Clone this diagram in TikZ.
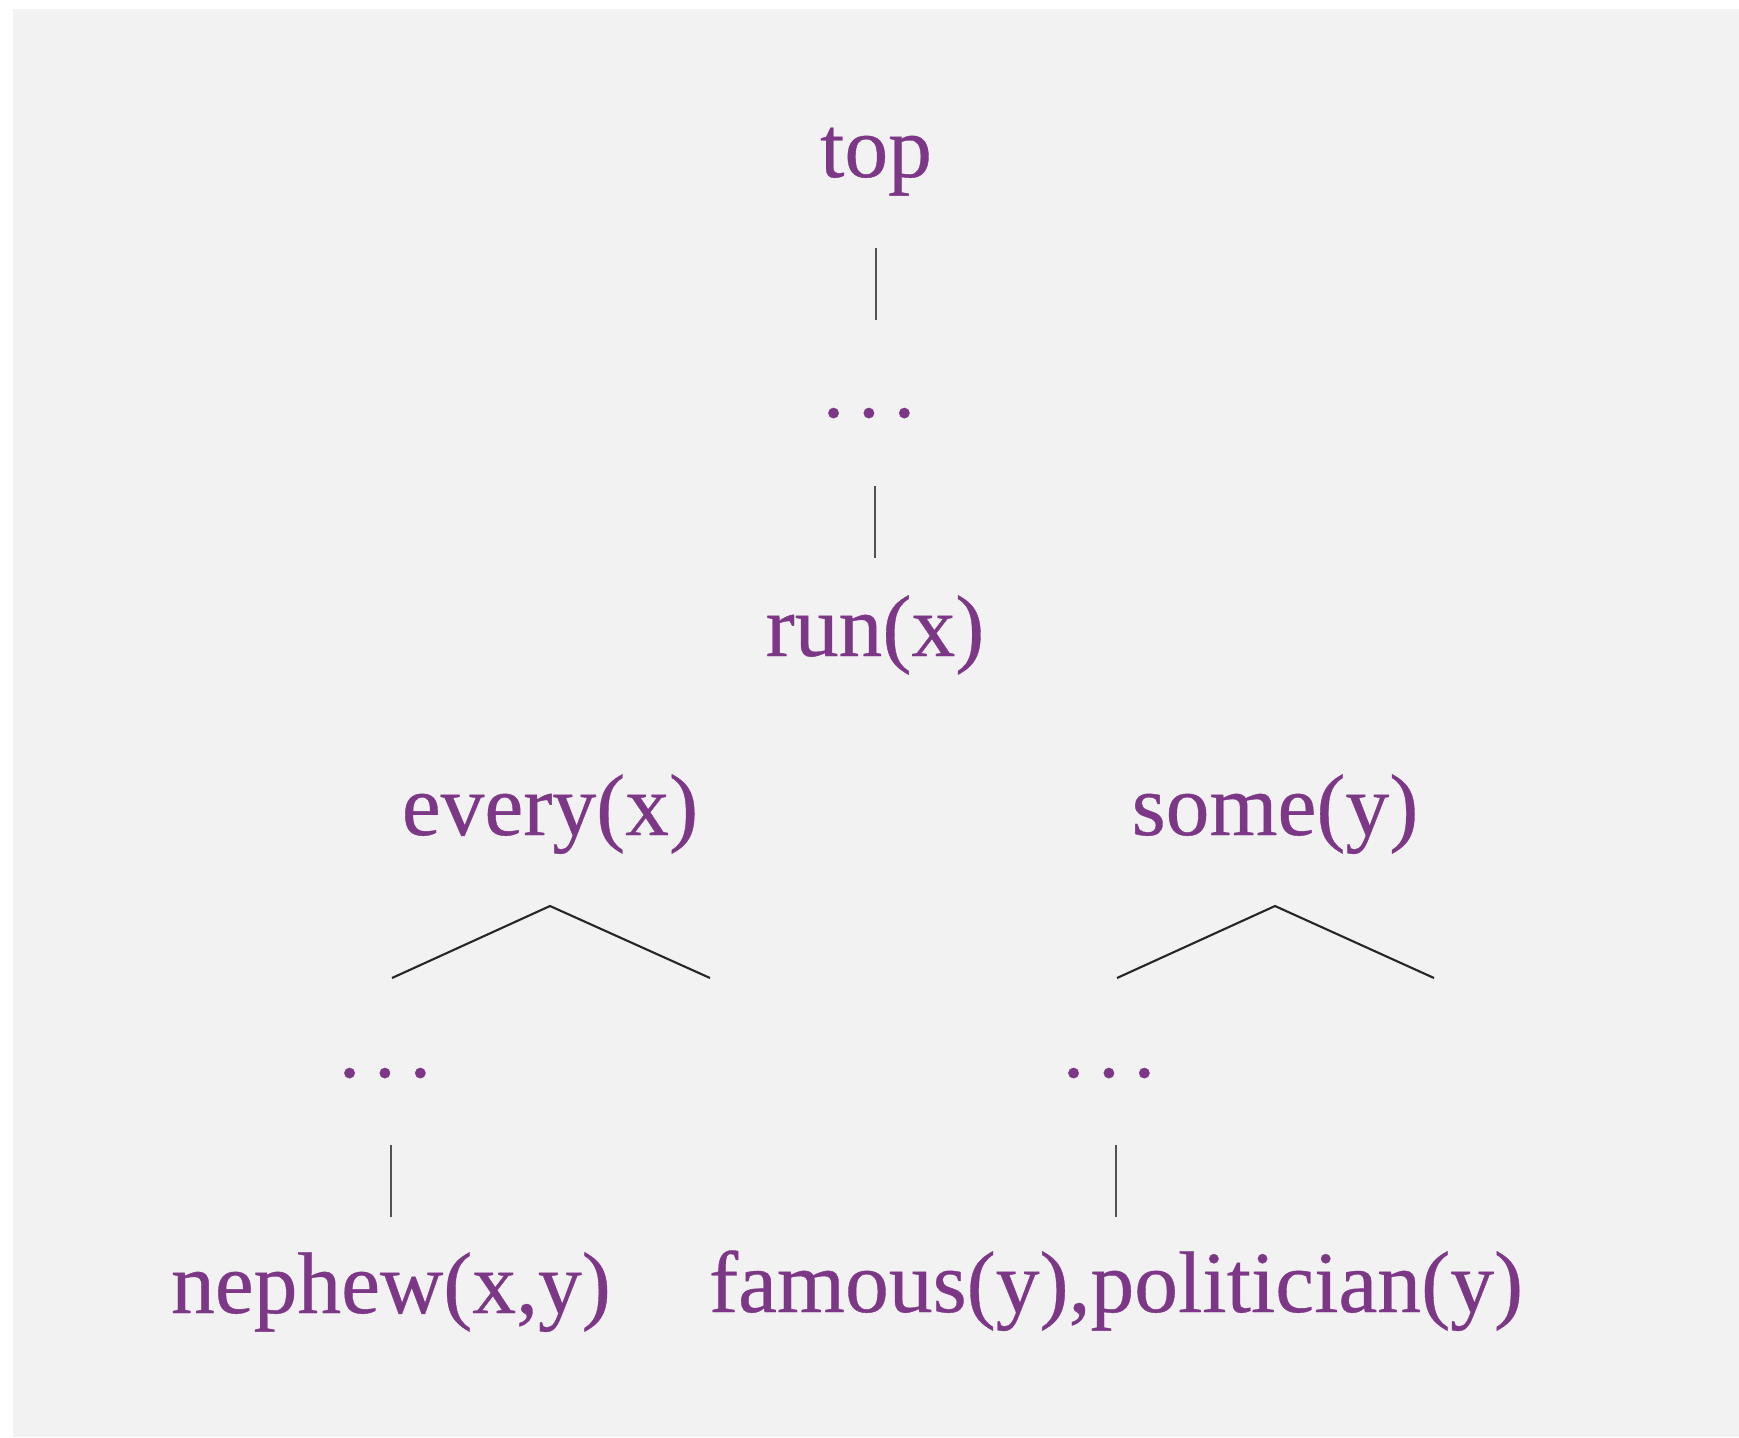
\documentclass[tikz,border=0pt]{standalone}
\usepackage{fontspec}
\setmainfont{Liberation Serif}[FakeBold=0.4]
\definecolor{bgc}{HTML}{F2F2F2}
\definecolor{txt}{RGB}{125,55,135}
\begin{document}
\begin{tikzpicture}[x=1pt,y=-1pt,
  lab/.style={inner sep=0pt, anchor=base, text=txt, text height=62pt, text depth=19pt,
    font=\fontsize{87.5}{100}\selectfont},
  conn/.style={draw=black!68, line width=2.8pt},
  vconn/.style={draw=black!85, line width=2.1pt, line join=miter}]
\useasboundingbox (0,0) rectangle (1739,1437);
\fill[bgc] (13,9) rectangle (1739,1437);
\newcommand{\mydots}{.\kern0.155em.\kern0.155em.}
% nodes
\node[lab] (top) at (876,177) {top};
\node[lab] (dots1) at (869,417) {\mydots};
\node[lab] (run) at (875,656) {run(x)};
\node[lab] (every) at (550,835) {every(x)};
\node[lab] (some) at (1275,835) {some(y)};
\node[lab] (dots2) at (385,1077) {\mydots};
\node[lab] (dots3) at (1109,1077) {\mydots};
\node[lab] (nephew) at (391,1313) {nephew(x,y)};
\node[lab] (famous) at (1116,1312) {famous(y),politician(y)};
% vertical connectors
\draw[conn, shorten <=52pt, shorten >=35pt] (top.south) -- (top.south |- dots1.north);
\draw[conn, shorten <=50pt, shorten >=36pt] (run.north |- dots1.south) -- (run.north);
\draw[conn, shorten <=49pt, shorten >=34pt] (nephew.north |- dots2.south) -- (nephew.north);
\draw[conn, shorten <=49pt, shorten >=33pt] (famous.north |- dots3.south) -- (famous.north);
% branching connectors
\coordinate (evA) at (550,906);
\coordinate (evL) at (392,978);
\coordinate (evR) at (710,978);
\coordinate (soA) at (1275,906);
\coordinate (soL) at (1117,978);
\coordinate (soR) at (1434,978);
\draw[vconn] (evL) -- (evA) -- (evR);
\draw[vconn] (soL) -- (soA) -- (soR);
\end{tikzpicture}
\end{document}
